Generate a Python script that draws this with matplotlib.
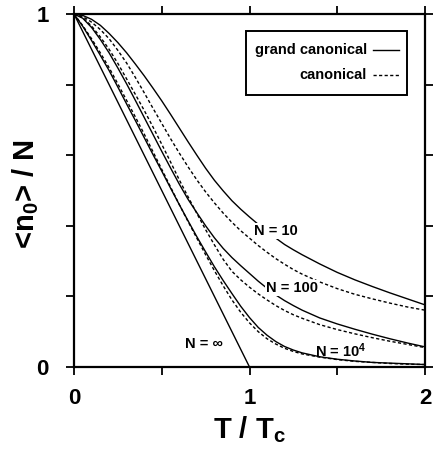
import matplotlib
matplotlib.use("Agg")
import matplotlib.pyplot as plt
from matplotlib.lines import Line2D
from matplotlib.patches import Rectangle

# ---- data ----
t_grid = [0.0, 0.05, 0.1, 0.15, 0.2, 0.25, 0.3, 0.35, 0.4, 0.45, 0.5,
          0.55, 0.6, 0.65, 0.7, 0.75, 0.8, 0.85, 0.9, 0.95, 1.0,
          1.05, 1.1, 1.15, 1.2, 1.25, 1.3, 1.4, 1.5, 1.6, 1.7, 1.8, 1.9, 2.0]

gc_N10 = [1.0, 0.996, 0.985, 0.968, 0.945, 0.919, 0.89, 0.858, 0.825, 0.79, 0.754,
          0.716, 0.677, 0.638, 0.6, 0.563, 0.529, 0.499, 0.471, 0.447, 0.425,
          0.404, 0.384, 0.365, 0.347, 0.332, 0.318, 0.292, 0.268, 0.247, 0.228, 0.21, 0.193, 0.176]
can_N10 = [1.0, 0.993, 0.977, 0.956, 0.93, 0.897, 0.861, 0.82, 0.777, 0.733, 0.69,
           0.647, 0.606, 0.567, 0.53, 0.496, 0.465, 0.436, 0.41, 0.386, 0.365,
           0.344, 0.325, 0.307, 0.291, 0.276, 0.263, 0.241, 0.222, 0.206, 0.193, 0.181, 0.17, 0.161]
gc_N100 = [1.0, 0.988, 0.962, 0.928, 0.89, 0.847, 0.802, 0.755, 0.707, 0.659, 0.611,
           0.564, 0.518, 0.475, 0.437, 0.4, 0.366, 0.336, 0.31, 0.287, 0.265,
           0.243, 0.223, 0.204, 0.188, 0.174, 0.161, 0.139, 0.122, 0.107, 0.093, 0.08, 0.068, 0.057]
can_N100 = [1.0, 0.99, 0.966, 0.935, 0.9, 0.86, 0.816, 0.772, 0.727, 0.68, 0.631,
            0.581, 0.53, 0.482, 0.435, 0.389, 0.346, 0.305, 0.271, 0.247, 0.226,
            0.207, 0.19, 0.174, 0.16, 0.148, 0.138, 0.12, 0.106, 0.094, 0.083, 0.073, 0.064, 0.055]
gc_N1e4 = [1.0, 0.965, 0.925, 0.883, 0.84, 0.793, 0.745, 0.698, 0.65, 0.602, 0.555,
           0.507, 0.46, 0.414, 0.369, 0.326, 0.284, 0.245, 0.208, 0.172, 0.14,
           0.112, 0.09, 0.072, 0.058, 0.048, 0.04, 0.029, 0.022, 0.017, 0.013, 0.011, 0.009, 0.007]
can_N1e4 = [1.0, 0.967, 0.93, 0.89, 0.848, 0.802, 0.755, 0.708, 0.66, 0.61, 0.56,
            0.51, 0.46, 0.412, 0.365, 0.318, 0.273, 0.23, 0.19, 0.155, 0.125,
            0.1, 0.08, 0.065, 0.053, 0.044, 0.037, 0.028, 0.021, 0.016, 0.013, 0.01, 0.008, 0.007]
t_inf = [0.0, 1.0]
n_inf = [1.0, 0.0]

labels = ["N = 10", "N = 100", "N = 10$^4$", "N = ∞"]
label_pos = [(1.15, 0.385), (1.24, 0.224), (1.52, 0.047), (0.74, 0.066)]
label_masked = [True, True, False, True]
legend_labels = ["grand canonical", "canonical"]

x_ticks = [0, 0.5, 1, 1.5, 2]
x_ticklabels = ["0", "", "1", "", "2"]
y_ticks = [0, 0.2, 0.4, 0.6, 0.8, 1.0]
y_ticklabels = ["0", "", "", "", "", "1"]

# ---- style ----
plt.rcParams["font.family"] = ["Liberation Sans", "DejaVu Sans"]
plt.rcParams["font.weight"] = "bold"
plt.rcParams["mathtext.fontset"] = "custom"
plt.rcParams["mathtext.rm"] = "Liberation Sans:bold"
plt.rcParams["mathtext.it"] = "Liberation Sans:bold"
plt.rcParams["mathtext.bf"] = "Liberation Sans:bold"
plt.rcParams["mathtext.default"] = "rm"
plt.rcParams["lines.scale_dashes"] = False

fig = plt.figure(figsize=(4.34, 4.55), dpi=100)
ax = fig.add_axes([0.1705, 0.1934, 0.9793 - 0.1705, 0.9692 - 0.1934])

lw = 1.0
dash = (0, (2.3, 1.7))
ax.plot(t_grid, gc_N10, color="black", lw=lw)
ax.plot(t_grid, can_N10, color="black", lw=lw, linestyle=dash)
ax.plot(t_grid, gc_N100, color="black", lw=lw)
ax.plot(t_grid, can_N100, color="black", lw=lw, linestyle=dash)
ax.plot(t_grid, gc_N1e4, color="black", lw=lw)
ax.plot(t_grid, can_N1e4, color="black", lw=lw, linestyle=dash)
ax.plot(t_inf, n_inf, color="black", lw=lw)

for lab, (x, y), masked in zip(labels, label_pos, label_masked):
    bbox = dict(facecolor="white", edgecolor="none", pad=0.6) if masked else None
    ax.text(x, y, lab, ha="center", va="center", fontsize=10.5, fontweight="bold",
            bbox=bbox, zorder=5)

ax.set_xlim(0, 2)
ax.set_ylim(0, 1)
ax.set_xticks(x_ticks)
ax.set_xticklabels(x_ticklabels)
ax.set_yticks(y_ticks)
ax.set_yticklabels(y_ticklabels)
ax.tick_params(axis="both", direction="out", length=6, width=1.3,
               top=True, right=True, labelsize=16)
ax.tick_params(axis="x", pad=9)
ax.tick_params(axis="y", pad=12)
for sp in ax.spines.values():
    sp.set_linewidth(1.6)

ax.set_xlabel("T / T$_\\mathrm{c}$", fontsize=21, fontweight="bold", labelpad=4)
ax.set_ylabel("<n$_0$> / N", fontsize=21, fontweight="bold")
ax.yaxis.set_label_coords(-0.094, 0.49)

# legend box drawn in axes-fraction coordinates
tr = ax.transAxes
ax.add_patch(Rectangle((0.490, 0.771), 0.949 - 0.490, 0.952 - 0.771, transform=tr,
                       facecolor="white", edgecolor="black", lw=1.4, zorder=6))
row_y = [0.898, 0.827]
styles = ["-", dash]
for lab, yy, ls in zip(legend_labels, row_y, styles):
    ax.text(0.835, yy, lab, transform=tr, ha="right", va="center",
            fontsize=10.5, fontweight="bold", zorder=7)
    ax.add_line(Line2D([0.852, 0.926], [yy, yy], transform=tr, color="black",
                       lw=lw, linestyle=ls, zorder=7))

fig.savefig("out.png", dpi=100)
